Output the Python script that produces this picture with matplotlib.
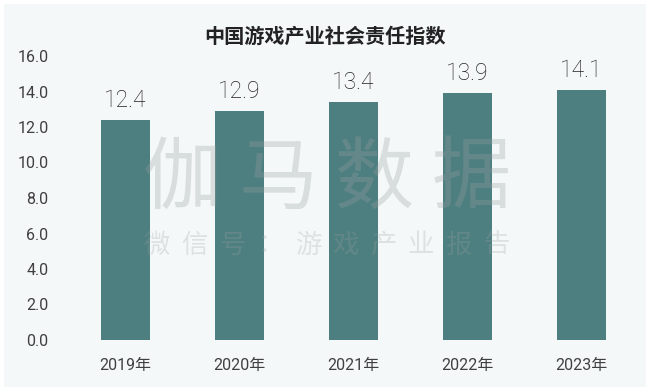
import matplotlib
matplotlib.use("Agg")
import matplotlib.pyplot as plt
from matplotlib.patches import Rectangle

categories = ["2019年", "2020年", "2021年", "2022年", "2023年"]
values = [12.4, 12.9, 13.4, 13.9, 14.1]
yticks = [0, 2, 4, 6, 8, 10, 12, 14, 16]
title = "中国游戏产业社会责任指数"
wm_main = "伽马数据"
wm_sub = "微信号：游戏产业报告"

plt.rcParams['font.family'] = ['Roboto', 'Noto Sans CJK SC', 'DejaVu Sans']

W, H = 650, 391
fig = plt.figure(figsize=(W/100, H/100), dpi=100, facecolor="white")
fig.patches.append(Rectangle((4/W, 4/H), 1-8/W, 1-8/H, transform=fig.transFigure,
                             facecolor="#f4f8f9", edgecolor="none", zorder=-10))

ax = fig.add_axes([50/W, 1-340/H, 580/W, (340-56)/H])
ax.set_facecolor("none")
x = list(range(len(categories)))
ax.bar(x, values, width=0.43, color="#4e7f80", zorder=2)
for xi, v in zip(x, values):
    ax.text(xi, v + 0.45, f"{v:.1f}", ha="center", va="bottom", fontsize=16.5,
            color="#222222", fontweight="light")

ax.set_xlim(-0.66, 4.43)
ax.set_ylim(0, 16)
ax.set_yticks(yticks)
ax.set_yticklabels([f"{t:.1f}" for t in yticks], fontsize=11.5, color="#404040")
ax.set_xticks(x)
ax.set_xticklabels(categories, fontsize=11.5, color="#404040",
                   family=['Roboto', 'Noto Sans CJK SC'])
ax.tick_params(length=0, axis="y", pad=1)
ax.tick_params(length=0, axis="x", pad=13)
for s in ax.spines.values():
    s.set_visible(False)

fig.text(0.5, 1-36/H, title, ha="center", va="center", fontsize=14.5,
         fontweight="bold", color="#222222", family=['Noto Sans CJK SC'])

# watermark
for i, ch in enumerate(wm_main):
    fig.text((182 + 96.5*i)/W, 1-180/H, ch, ha="center", va="center", fontsize=57,
             color="#9aa0a0", alpha=0.3, family=['Noto Sans CJK SC'], zorder=5)
for i, ch in enumerate(wm_sub):
    fig.text((157 + 37.7*i)/W, 1-245/H, ch, ha="center", va="center",
             fontsize=19, color="#9aa0a0", alpha=0.25, family=['Noto Sans CJK SC'], zorder=5)

fig.savefig("out.png", dpi=100, facecolor="white")
